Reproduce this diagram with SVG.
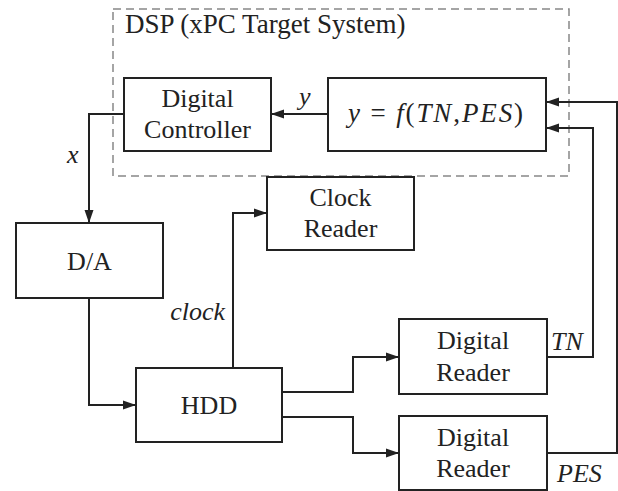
<svg xmlns="http://www.w3.org/2000/svg" width="618" height="491" viewBox="0 0 618 491">
<style>
.box{fill:#fff;stroke:#222;stroke-width:2}
.wire{fill:none;stroke:#222;stroke-width:2}
.t{font-family:"Liberation Serif","Times New Roman",serif;font-size:26px;fill:#222;text-anchor:middle}
.l{font-family:"Liberation Serif","Times New Roman",serif;font-size:26px;fill:#222}
.i{font-style:italic}
</style>
<defs>
<marker id="ah" markerWidth="13" markerHeight="10" refX="13" refY="5" orient="auto" markerUnits="userSpaceOnUse">
<path d="M0,0.5 L13,5 L0,9.5 z" fill="#222"/>
</marker>
</defs>
<g id="dsp">
<rect x="113" y="9" width="456" height="167" fill="none" stroke="#888" stroke-width="1.5" stroke-dasharray="8 5"/>
<text class="l" x="125" y="33" style="font-size:27px">DSP (xPC Target System)</text>
</g>
<g id="controller">
<rect class="box" x="124" y="78" width="147" height="73"/>
<text class="t" x="197.5" y="107">Digital</text>
<text class="t" x="197.5" y="138">Controller</text>
</g>
<g id="func">
<rect class="box" x="328" y="78" width="218" height="73"/>
<text class="l" x="348" y="122" style="font-size:27px" textLength="175" lengthAdjust="spacing"><tspan class="i">y</tspan> = <tspan class="i">f</tspan>(<tspan class="i">TN</tspan>,<tspan class="i">PES</tspan>)</text>
</g>
<g id="da">
<rect class="box" x="16" y="223" width="147" height="75"/>
<text class="t" x="89.5" y="270">D/A</text>
</g>
<g id="clockreader">
<rect class="box" x="267" y="177" width="147" height="73"/>
<text class="t" x="340.5" y="206">Clock</text>
<text class="t" x="340.5" y="237">Reader</text>
</g>
<g id="hdd">
<rect class="box" x="136" y="368" width="146" height="74"/>
<text class="t" x="209" y="414">HDD</text>
</g>
<g id="reader1">
<rect class="box" x="399" y="319" width="148" height="75"/>
<text class="t" x="473" y="349">Digital</text>
<text class="t" x="473" y="381">Reader</text>
</g>
<g id="reader2">
<rect class="box" x="399" y="416" width="148" height="74"/>
<text class="t" x="473" y="446">Digital</text>
<text class="t" x="473" y="477">Reader</text>
</g>
<g id="connectors">
<path class="wire" d="M328,114 H271" marker-end="url(#ah)"/>
<path class="wire" d="M124,114 H89 V223" marker-end="url(#ah)"/>
<path class="wire" d="M89,298 V405 H136" marker-end="url(#ah)"/>
<path class="wire" d="M233,368 V213 H267" marker-end="url(#ah)"/>
<path class="wire" d="M282,392 H353 V357 H399" marker-end="url(#ah)"/>
<path class="wire" d="M282,417 H353 V453 H399" marker-end="url(#ah)"/>
<path class="wire" d="M547,357 H593 V128 H546" marker-end="url(#ah)"/>
<path class="wire" d="M547,453 H617 V102 H546" marker-end="url(#ah)"/>
<text class="l i" x="299" y="105">y</text>
<text class="l i" x="67" y="163">x</text>
<text class="l i" x="225" y="320" text-anchor="end">clock</text>
<text class="l i" x="551" y="350">TN</text>
<text class="l i" x="557" y="482">PES</text>
</g>
</svg>
